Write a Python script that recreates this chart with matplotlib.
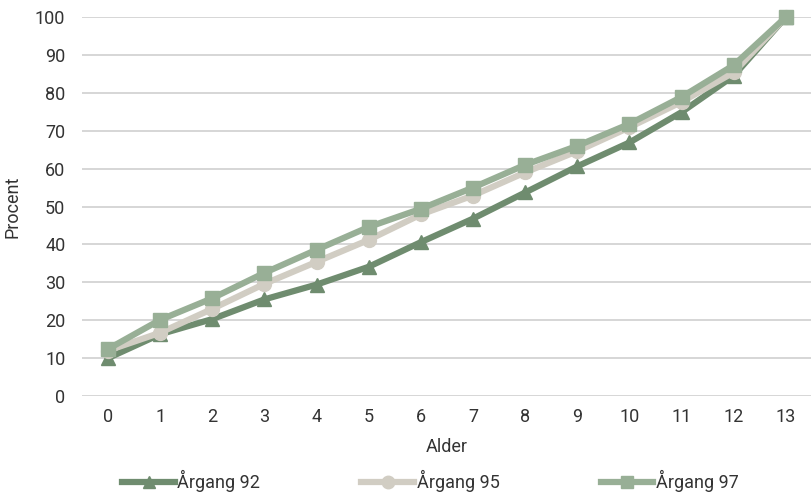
import matplotlib
matplotlib.use("Agg")
import matplotlib.pyplot as plt
from matplotlib import font_manager

ages = list(range(14))
argang_92 = [10.0, 16.3, 20.3, 25.5, 29.4, 34.1, 40.6, 46.8, 53.7, 60.6, 66.9, 74.9, 84.5, 100]
argang_95 = [12.0, 16.7, 23.0, 29.6, 35.4, 41.2, 47.9, 52.9, 59.0, 64.6, 70.9, 77.6, 85.4, 100]
argang_97 = [12.4, 20.1, 25.8, 32.5, 38.6, 44.6, 49.4, 55.0, 61.0, 66.0, 71.8, 78.9, 87.3, 100]

series = [
    ("Årgang 92", argang_92, "#6f8c6f", "^"),
    ("Årgang 95", argang_95, "#d1cdc3", "o"),
    ("Årgang 97", argang_97, "#98af96", "s"),
]

installed = {f.name for f in font_manager.fontManager.ttflist}
family = "Liberation Sans Narrow" if "Liberation Sans Narrow" in installed else "Roboto"
plt.rcParams["font.family"] = [family, "DejaVu Sans"]

fig = plt.figure(figsize=(8.12, 4.93), dpi=100)
ax = fig.add_axes([82 / 812, 1 - 396 / 493, 1 - 82 / 812, (396 - 17) / 493])

for label, vals, color, marker in series:
    ax.plot(ages, vals, color=color, linewidth=4.5, marker=marker, markersize=10,
            markeredgecolor=color, label=label, clip_on=False, zorder=3)

ax.set_xlim(-0.5, 13.5)
ax.set_ylim(0, 100)
ax.set_xticks(ages)
ax.set_yticks(range(0, 101, 10))
ax.grid(axis="y", color="#d0d0d0", linewidth=1.2)
ax.set_axisbelow(True)
for s in ax.spines.values():
    s.set_visible(False)
ax.tick_params(length=0, labelsize=13, colors="#333333", pad=12)
ax.tick_params(axis="x", pad=9)

ax.set_xlabel("Alder", fontsize=13, color="#333333", labelpad=8)
ax.set_ylabel("Procent", fontsize=13, color="#333333", labelpad=10)

fig.legend(loc="center", bbox_to_anchor=(0.53, 1 - 481 / 493), ncol=3, frameon=False,
           fontsize=13, handlelength=2.9, handletextpad=0.15, columnspacing=5.6,
           labelcolor="#333333", markerscale=0.9, borderpad=0)

fig.savefig("out.png", dpi=100)
